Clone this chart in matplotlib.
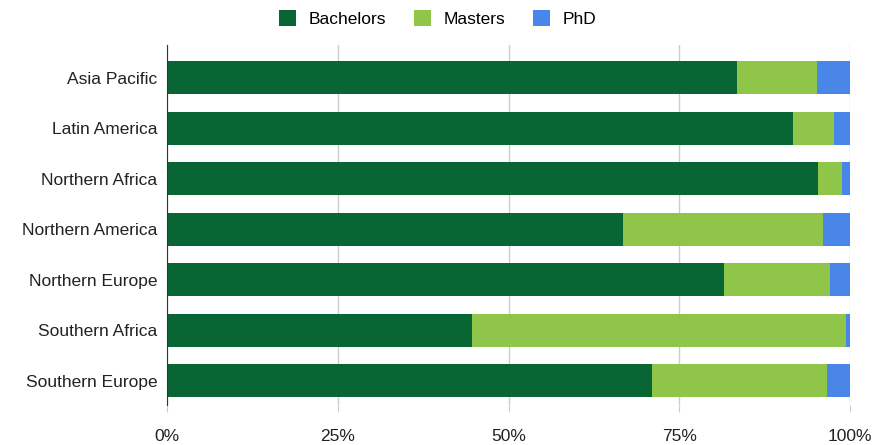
import matplotlib
matplotlib.use("Agg")
import matplotlib.pyplot as plt
import numpy as np

regions = ["Asia Pacific", "Latin America", "Northern Africa", "Northern America",
           "Northern Europe", "Southern Africa", "Southern Europe"]
bachelors = [83.5, 91.6, 95.3, 66.7, 81.5, 44.6, 71.0]
masters = [11.6, 6.1, 3.6, 29.4, 15.5, 54.8, 25.6]
phd = [4.9, 2.3, 1.1, 3.9, 3.0, 0.6, 3.4]

colors = {"Bachelors": "#076633", "Masters": "#8fc549", "PhD": "#4a86e8"}

plt.rcParams["font.family"] = ["Liberation Sans", "DejaVu Sans"]

fig = plt.figure(figsize=(8.75, 4.45), dpi=100)
ax = fig.add_axes([167 / 875, 40 / 445, 683 / 875, 360 / 445])

y = np.arange(len(regions))
h = 0.65
left = np.zeros(len(regions))
for name, vals in [("Bachelors", bachelors), ("Masters", masters), ("PhD", phd)]:
    ax.barh(y, vals, left=left, height=h, color=colors[name], label=name, zorder=3)
    left = left + np.array(vals)

ax.set_xlim(0, 100)
ax.set_ylim(6.48, -0.65)
ax.set_yticks(y)
ax.set_yticklabels(regions, fontsize=12.5, color="#222222")
ax.set_xticks([0, 25, 50, 75, 100])
ax.set_xticklabels(["0%", "25%", "50%", "75%", "100%"], fontsize=12.5, color="#222222")
ax.tick_params(axis="y", length=0, pad=7)
ax.tick_params(axis="x", length=5, color="#cccccc", pad=12)
ax.grid(axis="x", color="#cccccc", linewidth=1, zorder=0)
for s in ["top", "right", "bottom"]:
    ax.spines[s].set_visible(False)
ax.spines["left"].set_color("#333333")
ax.spines["left"].set_zorder(4)

fig.legend(loc="upper center", bbox_to_anchor=(0.5, 1.012), ncol=3, frameon=False,
           fontsize=12.5, handlelength=1.0, handleheight=1.0, columnspacing=1.6,
           handletextpad=0.7)

fig.savefig("out.png", dpi=100)
